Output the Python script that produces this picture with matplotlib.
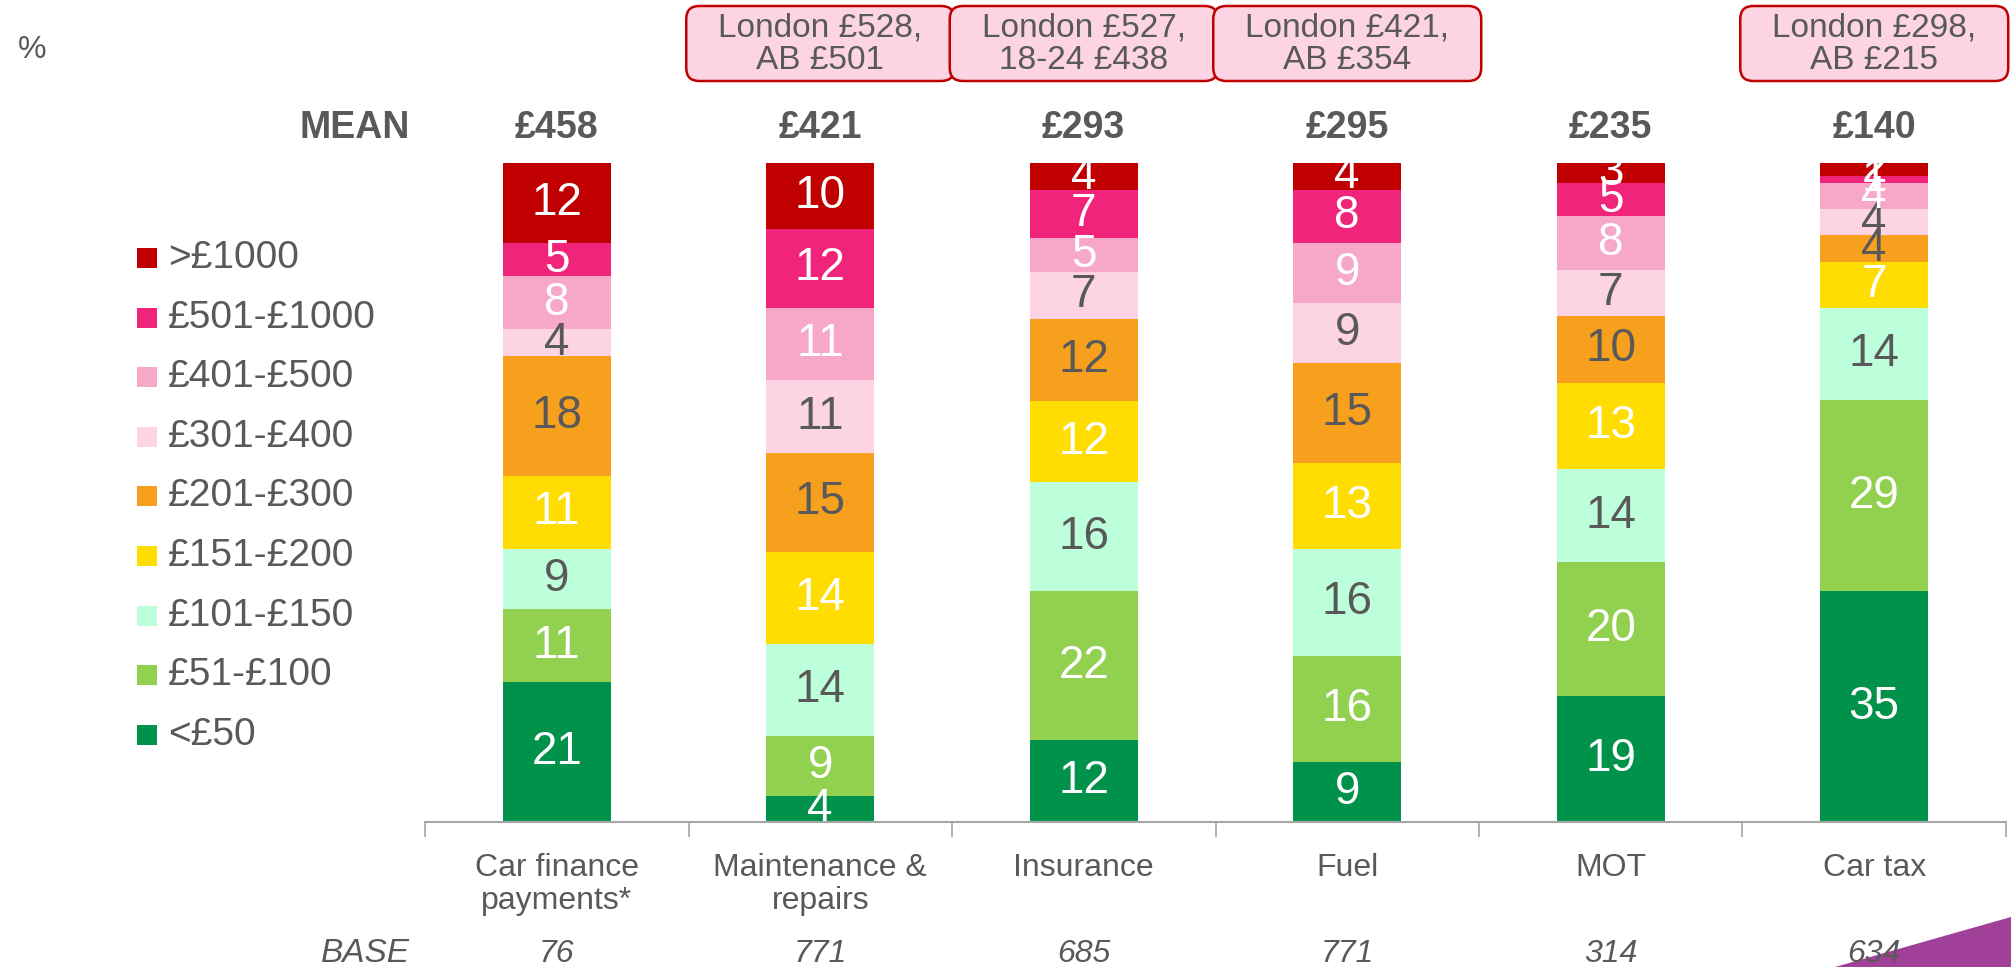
import numpy as np
import matplotlib
matplotlib.use("Agg")
import matplotlib.pyplot as plt
from matplotlib.patches import FancyBboxPatch, Rectangle, Polygon
from matplotlib.transforms import IdentityTransform

plt.rcParams['font.family'] = ['Liberation Sans Narrow', 'Liberation Sans', 'DejaVu Sans']

# categories and bands (bottom to top)
categories = ['Car finance\npayments*', 'Maintenance &\nrepairs', 'Insurance', 'Fuel', 'MOT', 'Car tax']
bands = ['<£50', '£51-£100', '£101-£150', '£151-£200', '£201-£300',
         '£301-£400', '£401-£500', '£501-£1000', '>£1000']
colors = ['#00924A', '#92D050', '#BDFFDB', '#FFDD00', '#F7A01E',
          '#FCD4E4', '#F7A8C8', '#F0247A', '#C00000']
label_colors = ['white', 'white', '#595959', 'white', '#595959',
                '#595959', 'white', 'white', 'white']

# % per band, one list per band, in category order
lt50 = [21, 4, 12, 9, 19, 35]
b51_100 = [11, 9, 22, 16, 20, 29]
b101_150 = [9, 14, 16, 16, 14, 14]
b151_200 = [11, 14, 12, 13, 13, 7]
b201_300 = [18, 15, 12, 15, 10, 4]
b301_400 = [4, 11, 7, 9, 7, 4]
b401_500 = [8, 11, 5, 9, 8, 4]
b501_1000 = [5, 12, 7, 8, 5, 1]
gt1000 = [12, 10, 4, 4, 3, 2]

means = ['£458', '£421', '£293', '£295', '£235', '£140']
bases = ['76', '771', '685', '771', '314', '634']
notes = {1: 'London £528,\nAB £501', 2: 'London £527,\n18-24 £438',
         3: 'London £421,\nAB £354', 5: 'London £298,\nAB £215'}

W, H = 2011, 967
GREY = '#595959'
values = np.array([lt50, b51_100, b101_150, b151_200, b201_300,
                   b301_400, b401_500, b501_1000, gt1000], dtype=float)
shares = values / values.sum(axis=0) * 100  # 100% stacked

fig = plt.figure(figsize=(W / 100, H / 100), dpi=100)
ax = fig.add_axes([425 / W, 1 - 822 / H, 1581 / W, 659 / H])
x = np.arange(len(categories))

bottom = np.zeros(len(categories))
for k in range(len(bands)):
    ax.bar(x, shares[k], width=0.41, bottom=bottom, color=colors[k], edgecolor='none')
    for i in range(len(categories)):
        ax.text(x[i], bottom[i] + shares[k][i] / 2, f'{int(values[k][i])}',
                ha='center', va='center', fontsize=33, color=label_colors[k])
    bottom += shares[k]

ax.set_xlim(-0.5, 5.5)
ax.set_ylim(0, 100)
for s in ['top', 'right', 'left']:
    ax.spines[s].set_visible(False)
ax.spines['bottom'].set_color('#A6A6A6')
ax.spines['bottom'].set_linewidth(1.5)
ax.set_yticks([])
ax.set_xticks(x)
ax.set_xticklabels(categories, fontsize=23, color=GREY, linespacing=1.15)
ax.tick_params(axis='x', which='major', length=0, pad=22)
ax.set_xticks(np.arange(-0.5, 6, 1), minor=True)
ax.tick_params(axis='x', which='minor', length=11, width=1.2, color='#A6A6A6', direction='out')

tr = ax.get_xaxis_transform()
for i in range(len(categories)):
    ax.text(x[i], 1.053, means[i], transform=tr, ha='center', va='center',
            fontsize=27, fontweight='bold', color=GREY)
    ax.text(x[i], -0.2, bases[i], transform=tr, ha='center', va='center',
            fontsize=23, style='italic', color=GREY)
fig.text(410 / W, 1 - 128 / H, 'MEAN', ha='right', va='center', fontsize=27,
         fontweight='bold', color=GREY)
fig.text(410 / W, 1 - 954 / H, 'BASE', ha='right', va='center', fontsize=24,
         style='italic', color=GREY)
fig.text(18 / W, 1 - 50 / H, '%', ha='left', va='center', fontsize=23, color=GREY)

# note boxes above bars
fig.canvas.draw()
for i, txt in notes.items():
    cx = ax.transData.transform((x[i], 0))[0]
    box = FancyBboxPatch((cx - 134, H - 81), 268, 75,
                         boxstyle='round,pad=0,rounding_size=13',
                         transform=IdentityTransform(), fc='#FCD4E4', ec='#C00000', lw=1.8)
    fig.add_artist(box)
    fig.text(cx / W, 1 - 44 / H, txt, ha='center', va='center', fontsize=24,
             color=GREY, linespacing=1.05)

# legend, top band first
for j, k in enumerate(range(len(bands) - 1, -1, -1)):
    yc = 258 + j * 59.6
    fig.add_artist(Rectangle((137 / W, 1 - (yc + 10) / H), 20 / W, 20 / H,
                             transform=fig.transFigure, fc=colors[k], ec='none'))
    fig.text(168 / W, 1 - yc / H, bands[k], ha='left', va='center', fontsize=28, color=GREY)

# purple corner swoosh, kept beneath the base labels
fig.add_artist(Polygon([(1835 / W, 0), (1, 1 - 917 / H), (1, 0)], closed=True,
                       transform=fig.transFigure, fc='#A04098', ec='none', zorder=-1))

fig.savefig('out.png', dpi=100)
